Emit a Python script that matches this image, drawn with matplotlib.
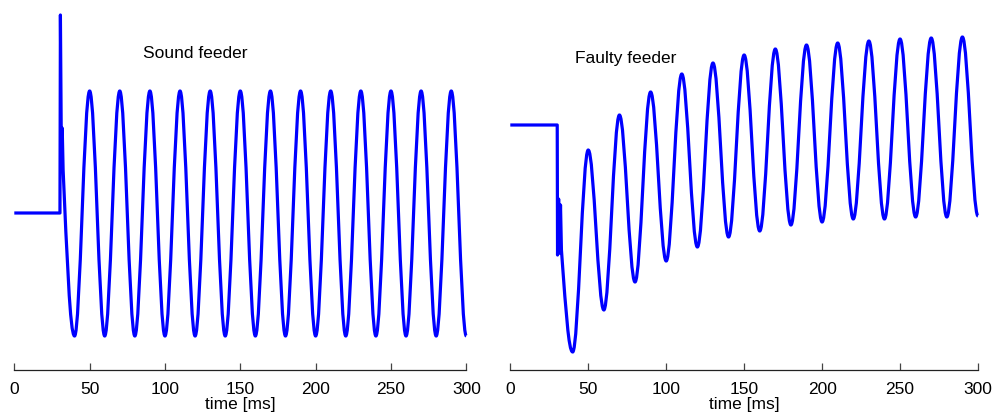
import matplotlib
matplotlib.use('Agg')
from matplotlib import pyplot as plt
from matplotlib.path import Path
from matplotlib.patches import PathPatch

plt.rcParams['font.family'] = ['Liberation Sans', 'DejaVu Sans']

# 数据（纵轴为任意单位，从图上读取）
xticks = [0, 50, 100, 150, 200, 250, 300]

# 健全馈线：故障前平直段 + 暂态尖峰
sound_pre_t = [0, 30.3, 30.6, 31.3, 31.8, 32.4]
sound_pre_v = [157, 157, 355, 205, 242, 200]
# 之后的正弦波极值点（谷、峰交替）
sound_ext_t = [40, 50, 60, 70, 80, 90, 100, 110, 120, 130, 140, 150, 160, 170,
               180, 190, 200, 210, 220, 230, 240, 250, 260, 270, 280, 290, 300]
sound_ext_v = [34, 279, 34, 279, 34, 279, 34, 279, 34, 279, 34, 279, 34, 279,
               34, 279, 34, 279, 34, 279, 34, 279, 34, 279, 34, 279, 34]

# 故障馈线
faulty_pre_t = [0, 30.1, 30.3, 31.0, 31.6, 32.2, 32.8, 33.4]
faulty_pre_v = [245, 245, 115, 171, 117, 165, 120, 107]
faulty_ext_t = [40, 50, 60, 70, 80, 90, 100, 110, 120, 130, 140, 150, 160, 170,
                180, 190, 200, 210, 220, 230, 240, 250, 260, 270, 280, 290, 300]
faulty_ext_v = [18, 220, 60, 255, 88, 278, 109, 296, 123, 307, 133, 315, 139, 321,
                145, 325, 148, 327, 151, 329, 151, 331, 153, 332, 153, 333, 154]


def wave_path(pre_t, pre_v, ext_t, ext_v):
    # 极值点之间用三次贝塞尔半波连接（水平切线）
    verts = list(zip(pre_t, pre_v))
    codes = [Path.MOVETO] + [Path.LINETO] * (len(pre_t) - 1)
    t0, v0 = pre_t[-1], pre_v[-1]
    for i, (t1, v1) in enumerate(zip(ext_t, ext_v)):
        dt = t1 - t0
        if i == 0:
            c1 = (t0 + 0.33 * dt, v0 + 0.5 * (v1 - v0))
            c2 = (t1 - 0.4 * dt, v1)
        else:
            c1 = (t0 + 0.364 * dt, v0)
            c2 = (t1 - 0.364 * dt, v1)
        verts += [c1, c2, (t1, v1)]
        codes += [Path.CURVE4] * 3
        t0, v0 = t1, v1
    return Path(verts, codes)


fig = plt.figure(figsize=(9.97, 4.17), dpi=100)
ax1 = fig.add_axes([14.3 / 997, 47 / 417, 452 / 997, 357 / 417])
ax2 = fig.add_axes([510.3 / 997, 47 / 417, 467.7 / 997, 357 / 417])

panels = [
    (ax1, sound_pre_t, sound_pre_v, sound_ext_t, sound_ext_v, 'Sound feeder', (85.6, 312.5)),
    (ax2, faulty_pre_t, faulty_pre_v, faulty_ext_t, faulty_ext_v, 'Faulty feeder', (41.5, 307)),
]
for ax, pt, pv, et, ev, title, pos in panels:
    patch = PathPatch(wave_path(pt, pv, et, ev), fill=False, edgecolor='#0000ff',
                      lw=2.3, joinstyle='round', capstyle='butt', clip_on=False)
    ax.add_patch(patch)
    ax.set_xlim(0, 300)
    ax.set_ylim(0, 357)
    for s in ['top', 'left', 'right']:
        ax.spines[s].set_visible(False)
    ax.spines['bottom'].set_linewidth(0.9)
    ax.spines['bottom'].set_color('#222222')
    ax.set_yticks([])
    ax.set_xticks(xticks)
    ax.tick_params(axis='x', direction='in', length=5, width=0.9, color='#444444',
                   labelsize=12.5, pad=9)
    ax.set_xlabel('time [ms]', fontsize=12.5, labelpad=0)
    ax.text(pos[0], pos[1], title, fontsize=12.5, ha='left', va='baseline')
    ax.patch.set_visible(False)

fig.savefig('out.png', dpi=100)
